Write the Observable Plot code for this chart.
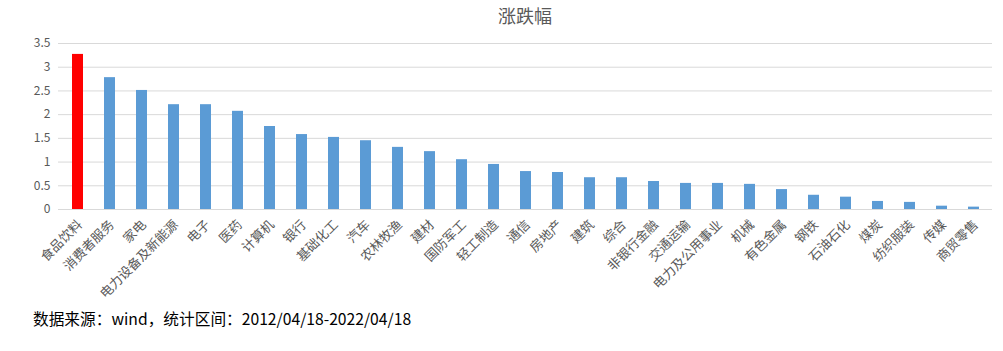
<!DOCTYPE html>
<html>
<head>
<meta charset="utf-8">
<script src="https://cdn.jsdelivr.net/npm/d3@7"></script>
<script src="https://cdn.jsdelivr.net/npm/@observablehq/plot@0.6"></script>
<style>
  body { margin: 0; background: #fff; font-family: "Noto Sans CJK SC", "Noto Sans", sans-serif; }
  #wrap { position: relative; width: 1003px; height: 351px; overflow: hidden; }
  #title { position: absolute; top: 2px; left: 0; width: 1050px; text-align: center; font-size: 18px; color: #595959; }
  #chart { position: absolute; top: 0; left: 0; }
  #caption { position: absolute; top: 307px; left: 33px; font-size: 15.7px; color: #000; }
</style>
</head>
<body>
<div id="wrap">
  <div id="chart"></div>
  <div id="title">涨跌幅</div>
  <div id="caption">数据来源：wind，统计区间：2012/04/18-2022/04/18</div>
</div>
<script>
const categories = ["食品饮料","消费者服务","家电","电力设备及新能源","电子","医药","计算机","银行","基础化工","汽车","农林牧渔","建材","国防军工","轻工制造","通信","房地产","建筑","综合","非银行金融","交通运输","电力及公用事业","机械","有色金属","钢铁","石油石化","煤炭","纺织服装","传媒","商贸零售"];
const values = [3.27,2.78,2.51,2.21,2.21,2.07,1.75,1.58,1.52,1.45,1.31,1.22,1.05,0.95,0.80,0.78,0.67,0.67,0.59,0.55,0.55,0.53,0.42,0.30,0.26,0.17,0.15,0.07,0.05];
const highlight = "食品饮料";
const yTicks = [0,0.5,1,1.5,2,2.5,3,3.5];

const data = categories.map((c, i) => ({name: c, value: values[i]}));

const chart = Plot.plot({
  width: 1003,
  height: 300,
  marginTop: 43,
  marginBottom: 91,
  marginLeft: 58,
  marginRight: 11,
  style: {fontFamily: '"Noto Sans CJK SC", sans-serif', fontSize: "12px", color: "#595959", background: "transparent", overflow: "visible"},
  x: {domain: categories, paddingInner: 0.66, paddingOuter: 0.33, label: null, axis: null},
  y: {domain: [0, 3.5], ticks: yTicks, label: null, tickSize: 0, tickPadding: 8, tickFormat: d => String(d)},
  marks: [
    Plot.gridY(yTicks, {stroke: "#d9d9d9", strokeOpacity: 1, strokeWidth: 1}),
    Plot.barY(data, {x: "name", y: "value", fill: d => d.name === highlight ? "#ff0000" : "#5b9bd5"}),
    Plot.text(categories, {x: d => d, y: () => 0, dx: 2, dy: 13, rotate: -45, textAnchor: "end", lineAnchor: "middle", fontSize: 13, fill: "#595959"})
  ]
});
chart.querySelectorAll('g[aria-label="y-axis tick label"] text').forEach(t => t.setAttribute("fill", "#595959"));
document.getElementById("chart").appendChild(chart);
</script>
</body>
</html>
